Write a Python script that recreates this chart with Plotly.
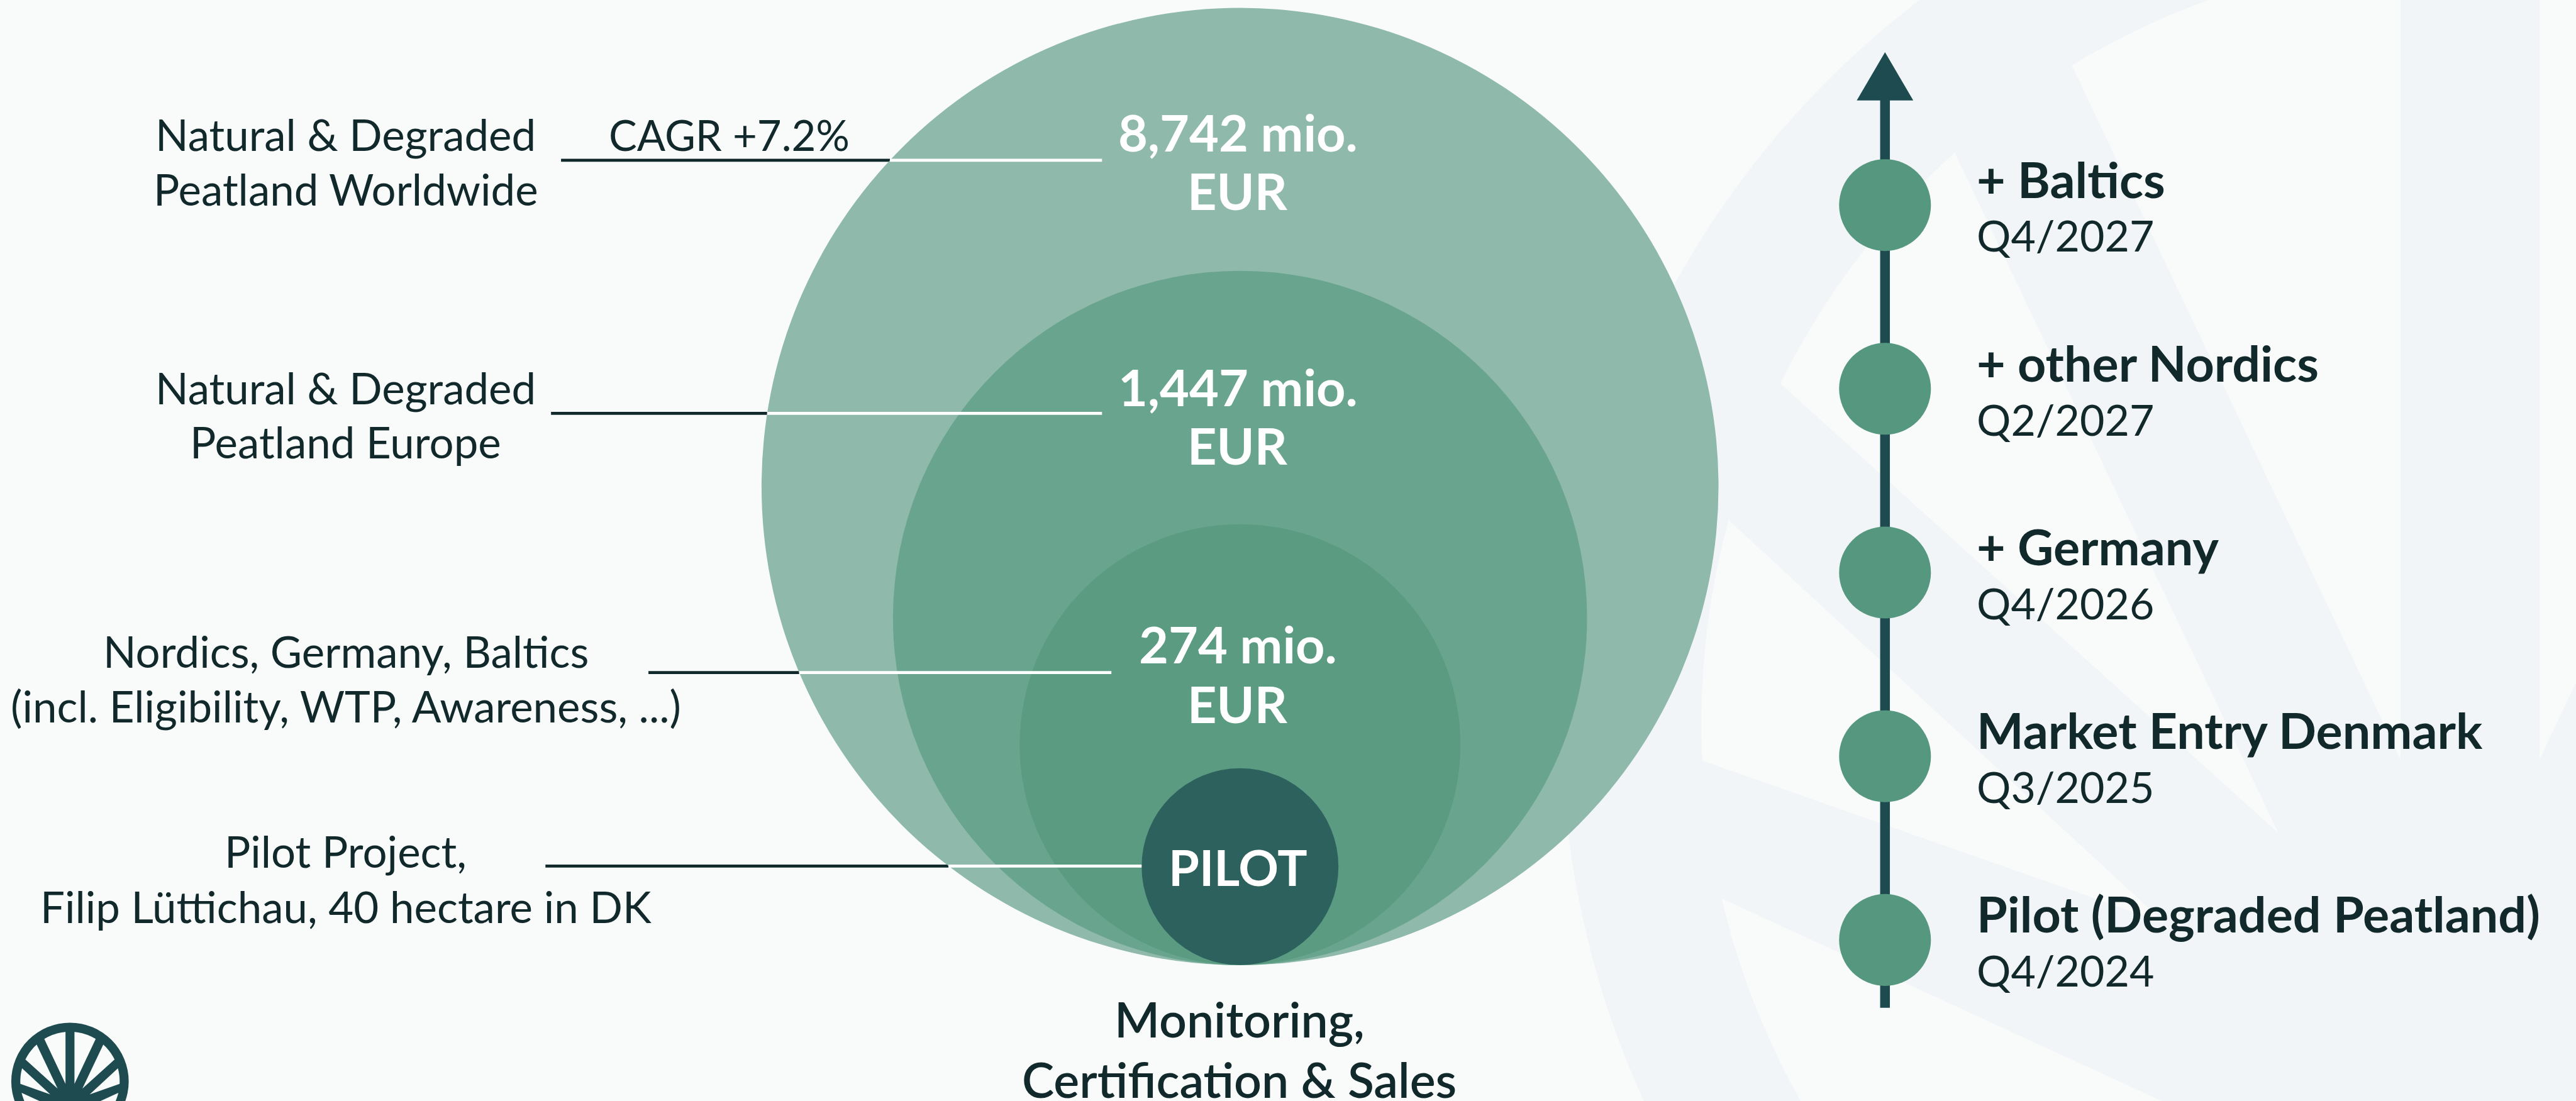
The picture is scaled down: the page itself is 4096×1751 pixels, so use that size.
import numpy as np
import plotly.graph_objects as go

# ---------------- data ----------------
segment_lines = [
    ["Natural & Degraded", "Peatland Worldwide"],
    ["Natural & Degraded", "Peatland Europe"],
    ["Nordics, Germany, Baltics", "(incl. Eligibility, WTP, Awareness, ...)"],
    ["Pilot Project,", "Filip Lüttichau, 40 hectare in DK"],
]
market_values_mio_eur = [8742, 1447, 274]
value_unit = ["mio.", "EUR"]
pilot_label = "PILOT"
growth_note = "CAGR +7.2%"
bottom_caption = ["Monitoring,", "Certification & Sales"]
milestones = ["+ Baltics", "+ other Nordics", "+ Germany",
              "Market Entry Denmark", "Pilot (Degraded Peatland)"]
milestone_dates = ["Q4/2027", "Q2/2027", "Q4/2026", "Q3/2025", "Q4/2024"]

# ---------------- layout / style ----------------
W, H = 1568.0, 670.0          # coordinate space
K = 4096.0 / W                # px per unit
BG = "#F9FBFB"
BG_LOGO = "#F2F5F7"
TXT = "#12292B"
DARK = "#1D4B50"
FONT = "Lato"

circle_cx = 754.8
circle_bottom = 587.3
circle_diam = [582.5, 422.5, 268.3, 119.8]
circle_colors = ["#8FB9AA", "#69A58E", "#5A9B82", "#2D615D"]
value_label_y = [(80.9, 116.6), (236.0, 271.5), (392.7, 428.7)]
pilot_label_y = 528.2
value_x = 753.5

leader_y = [97.5, 251.5, 409.3, 527.0]
leader_x0 = [341.5, 335.4, 394.7, 332.0]
leader_x1 = [670.8, 670.8, 676.5, None]
label_x = 210.5
label_y = [(82.5, 115.7), (236.5, 269.5), (396.8, 430.1), (518.8, 552.5)]
cagr_x, cagr_y = 443.8, 82.5
caption_x, caption_y = 754.5, [620.6, 657.6]

tl_x = 1147.4
tl_tip, tl_base, tl_half = 31.8, 61.1, 17.2
tl_bottom = 613.3
dot_top, dot_step, dot_d = 124.8, 111.8, 55.9
tl_text_x = 1202.3
title_dy, date_dy = -15.2, 19.0

LEAD_W = 4.7

shapes = []
annotations = []


def circle_geom(i):
    r = circle_diam[i] / 2.0
    return circle_cx, circle_bottom - r, r


def logo_shapes(cx, cy, R, fg, bg):
    out = [dict(type="circle", xref="x", yref="y", x0=cx - R, x1=cx + R,
                y0=cy - R, y1=cy + R, fillcolor=fg, line_width=0, layer="below")]
    ri = 0.846
    w = 0.0765

    def P(t):
        t = np.radians(t)
        return (-ri * np.sin(t), -ri * np.cos(t))

    def arc(t0, t1, n=30):
        return [P(t) for t in np.linspace(t0, t1, n)]

    tv = np.degrees(np.arcsin(w / ri))
    gaps = [
        arc(tv, 31.2) + [(-w, 0.04)],
        arc(42.1, 63.8) + [(-0.211, 0.121)],
        arc(74.7, 92.8) + [(-0.336, 0.22)],
        arc(103.2, 150.0) + [(-0.2, 0.62), (-0.2, 0.48)],
    ]
    for g in gaps:
        for sgn in (1, -1):
            pts = [(cx + sgn * x * R, cy + y * R) for x, y in g]
            path = "M " + " L ".join(f"{x:.2f},{y:.2f}" for x, y in pts) + " Z"
            out.append(dict(type="path", xref="x", yref="y", path=path,
                            fillcolor=bg, line_width=0, layer="below"))
    return out


# background decorative logo
shapes += logo_shapes(1503.5, 440.0, 553.0, BG_LOGO, BG)

# dark leader segments (outside the big circle)
bcx, bcy, br = circle_geom(0)
edges = []
for y in leader_y:
    edges.append(bcx - np.sqrt(br ** 2 - (y - bcy) ** 2))
for i, y in enumerate(leader_y):
    shapes.append(dict(type="line", xref="x", yref="y", x0=leader_x0[i], x1=edges[i],
                       y0=y, y1=y, line=dict(color=TXT, width=LEAD_W), layer="below"))

# market circles
for i in range(len(circle_diam)):
    cx, cy, r = circle_geom(i)
    shapes.append(dict(type="circle", xref="x", yref="y", x0=cx - r, x1=cx + r,
                       y0=cy - r, y1=cy + r, fillcolor=circle_colors[i],
                       line_width=0, layer="below"))

# white leader segments (inside the big circle)
pcx, pcy, pr = circle_geom(3)
for i, y in enumerate(leader_y):
    x1 = leader_x1[i]
    if x1 is None:
        x1 = pcx - np.sqrt(pr ** 2 - (y - pcy) ** 2)
    shapes.append(dict(type="line", xref="x", yref="y", x0=edges[i], x1=x1,
                       y0=y, y1=y, line=dict(color="white", width=LEAD_W), layer="below"))

# timeline line + arrow
shapes.append(dict(type="line", xref="x", yref="y", x0=tl_x, x1=tl_x, y0=tl_base - 1,
                   y1=tl_bottom, line=dict(color=DARK, width=15.5), layer="below"))
shapes.append(dict(type="path", xref="x", yref="y",
                   path=f"M {tl_x:.2f},{tl_tip:.2f} L {tl_x + tl_half:.2f},{tl_base:.2f} "
                        f"L {tl_x - tl_half:.2f},{tl_base:.2f} Z",
                   fillcolor=DARK, line_width=0, layer="below"))

# small logo bottom-left
shapes += logo_shapes(42.6, 658.1, 35.74, DARK, BG)


def text(x, y, s, size, color=TXT, weight=400, xanchor="center"):
    yc = y - 0.029 * size / K
    annotations.append(dict(x=x, y=yc, xref="x", yref="y", text=s, showarrow=False,
                            xanchor=xanchor, yanchor="middle",
                            font=dict(family=FONT, size=size, color=color, weight=weight)))


# left labels
for lines, ys in zip(segment_lines, label_y):
    for s, y in zip(lines, ys):
        text(label_x, y, s, 69)
text(cagr_x, cagr_y, growth_note, 67)

# values in circles
for v, ys in zip(market_values_mio_eur, value_label_y):
    text(value_x, ys[0], f"{v:,} {value_unit[0]}", 81, color="white", weight=700)
    text(value_x, ys[1], value_unit[1], 81, color="white", weight=700)
text(value_x, pilot_label_y, pilot_label, 79, color="white", weight=700)

# bottom caption
for s, y in zip(bottom_caption, caption_y):
    text(caption_x, y, s, 77, weight=600)

# timeline dots and labels
dot_y = [dot_top + i * dot_step for i in range(len(milestones))]
for m, d, y in zip(milestones, milestone_dates, dot_y):
    text(tl_text_x, y + title_dy, m, 79, weight=700, xanchor="left")
    text(tl_text_x, y + date_dy, d, 68, weight=400, xanchor="left")

fig = go.Figure()
fig.add_trace(go.Scatter(x=[tl_x] * len(dot_y), y=dot_y, mode="markers",
                         marker=dict(size=dot_d * K, color="#56987F", line_width=0),
                         hoverinfo="skip", showlegend=False))

fig.update_layout(
    width=4096, height=1751,
    margin=dict(l=0, r=0, t=0, b=0, pad=0),
    paper_bgcolor=BG, plot_bgcolor=BG,
    xaxis=dict(range=[0, W], visible=False, fixedrange=True),
    yaxis=dict(range=[H, 0], visible=False, fixedrange=True),
    shapes=shapes, annotations=annotations, showlegend=False,
)
fig.write_html(
    "out.html",
    config={"displayModeBar": False},
    post_script="document.body.style.margin='0';document.body.style.padding='0';"
                "document.body.style.overflow='hidden';"
                "document.body.style.background='" + BG + "';",
)
